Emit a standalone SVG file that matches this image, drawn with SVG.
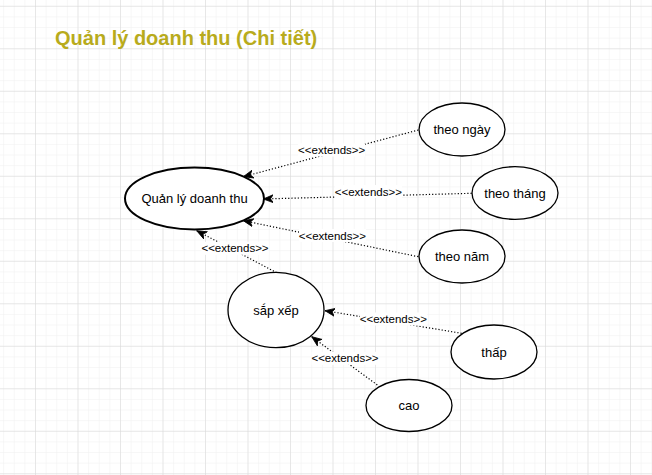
<svg xmlns="http://www.w3.org/2000/svg" width="652" height="475" viewBox="0 0 652 475">
<defs>
<pattern id="minor" patternUnits="userSpaceOnUse" x="35" y="5.8" width="10.625" height="10.625">
<path d="M0,0 V10.625 M0,0 H10.625" fill="none" stroke="#efefef" stroke-width="1"/>
</pattern>
<pattern id="major" patternUnits="userSpaceOnUse" x="35" y="5.8" width="42.5" height="42.5">
<path d="M0,0 V42.5 M0,0 H42.5" fill="none" stroke="#d8d8d8" stroke-width="1"/>
</pattern>
<marker id="arr" markerUnits="userSpaceOnUse" markerWidth="12" markerHeight="10" refX="10" refY="4.5" orient="auto" viewBox="0 0 12 10">
<path d="M0,0.5 L10,4.5 L0,8.5 L2.8,4.5 Z" fill="#000" stroke="#000" stroke-width="0.8"/>
</marker>
</defs>
<style>
.uc{fill:#fff;stroke:#000;stroke-width:1.3}
.main{fill:#fff;stroke:#000;stroke-width:2}
.t{font-family:"Liberation Sans",Arial,sans-serif;font-size:13px;fill:#000;text-anchor:middle;dominant-baseline:central}
.lbl{font-family:"Liberation Sans",Arial,sans-serif;font-size:11.5px;fill:#000;text-anchor:middle;dominant-baseline:central}
.lb{fill:#fff}
.c{fill:none;stroke:#000;stroke-width:1.2;stroke-dasharray:1.2 2;marker-end:url(#arr)}
</style>
<rect width="652" height="475" fill="#fff"/>
<rect width="652" height="475" fill="url(#minor)"/>
<rect width="652" height="475" fill="url(#major)"/>
<text x="55" y="45" font-family="'Liberation Sans',Arial,sans-serif" font-size="20" font-weight="bold" fill="#b8ab1c">Quản lý doanh thu (Chi tiết)</text>
<g id="connectors">
<path class="c" d="M418.3,130 L243.3,176.7"/>
<path class="c" d="M471.7,193.3 L263.3,199"/>
<path class="c" d="M418.3,256.7 L243.3,220.7"/>
<path class="c" d="M276.7,272.7 L196.7,230.7"/>
<path class="c" d="M461.7,333.3 L325,310.7"/>
<path class="c" d="M377.3,385 L311.7,336.7"/>
<rect class="lb" x="298" y="143.5" width="67" height="13"/>
<text class="lbl" x="331.7" y="150">&lt;&lt;extends&gt;&gt;</text>
<rect class="lb" x="335" y="185" width="67" height="13"/>
<text class="lbl" x="368.3" y="191.7">&lt;&lt;extends&gt;&gt;</text>
<rect class="lb" x="299" y="229" width="67" height="13"/>
<text class="lbl" x="332.3" y="235.7">&lt;&lt;extends&gt;&gt;</text>
<rect class="lb" x="201.5" y="241.8" width="67" height="13"/>
<text class="lbl" x="235" y="248.3">&lt;&lt;extends&gt;&gt;</text>
<rect class="lb" x="360" y="312.5" width="67" height="13"/>
<text class="lbl" x="393.3" y="319">&lt;&lt;extends&gt;&gt;</text>
<rect class="lb" x="311.5" y="351.8" width="67" height="13"/>
<text class="lbl" x="345" y="358.3">&lt;&lt;extends&gt;&gt;</text>
</g>
<g id="qldt"><ellipse class="main" cx="194.5" cy="198.5" rx="69.5" ry="31"/><text class="t" x="194.5" y="198.5">Quản lý doanh thu</text></g>
<g id="theongay"><ellipse class="uc" cx="462" cy="129.5" rx="43" ry="26.5"/><text class="t" x="462" y="129.5">theo ngày</text></g>
<g id="theothang"><ellipse class="uc" cx="515" cy="193" rx="43" ry="26.3"/><text class="t" x="515" y="193">theo tháng</text></g>
<g id="theonam"><ellipse class="uc" cx="462" cy="256.5" rx="43" ry="26.5"/><text class="t" x="462" y="256.5">theo năm</text></g>
<g id="sapxep"><ellipse class="uc" cx="276" cy="310" rx="48" ry="37.7"/><text class="t" x="276" y="310">sắp xếp</text></g>
<g id="thap"><ellipse class="uc" cx="494" cy="352" rx="43" ry="27"/><text class="t" x="494" y="352">thấp</text></g>
<g id="cao"><ellipse class="uc" cx="409" cy="405.5" rx="43" ry="26"/><text class="t" x="409" y="405.5">cao</text></g>
</svg>
